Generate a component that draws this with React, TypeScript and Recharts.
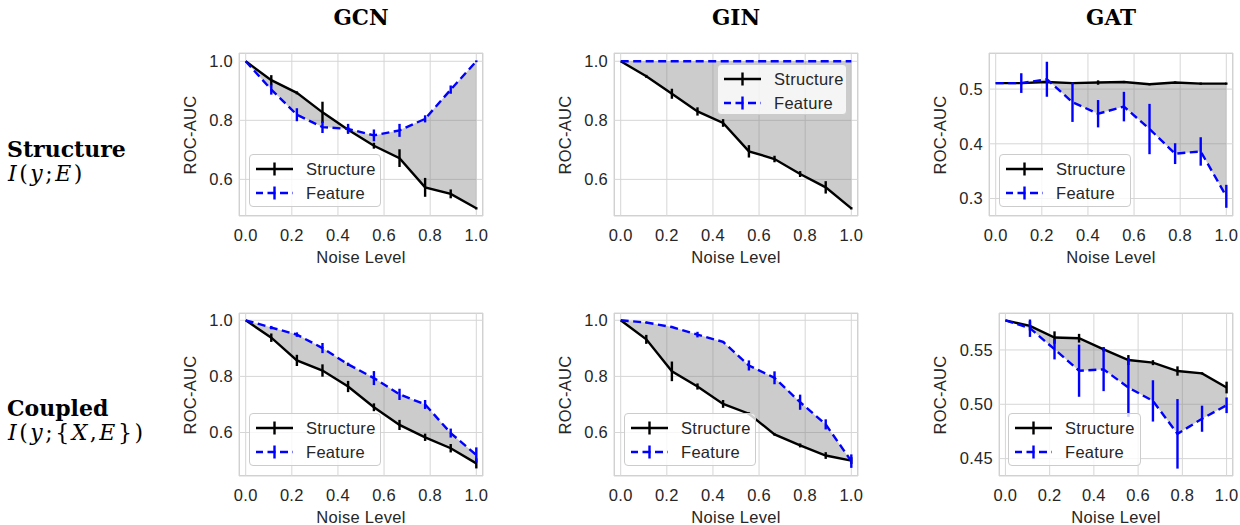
import React from 'react';
import { ComposedChart, Line, Area, XAxis, YAxis, CartesianGrid, ErrorBar } from 'recharts';

// ---------- data ----------
const NOISE = [0, 0.111, 0.222, 0.333, 0.444, 0.556, 0.667, 0.778, 0.889, 1.0];
const X_TICKS = [0, 0.2, 0.4, 0.6, 0.8, 1.0];
const MODELS = ['GCN', 'GIN', 'GAT'];
const ROWS = ['Structure', 'Coupled'];

// Row 1: Structure I(y;E)
const GCN_S_STRUCT = [1.0, 0.936, 0.893, 0.827, 0.768, 0.714, 0.672, 0.573, 0.551, 0.502];
const GCN_S_STRUCT_ERR = [0, 0.017, 0.005, 0.036, 0.01, 0.01, 0.03, 0.032, 0.015, 0.004];
const GCN_S_FEAT = [1.0, 0.904, 0.819, 0.777, 0.771, 0.749, 0.766, 0.805, 0.904, 1.0];
const GCN_S_FEAT_ERR = [0, 0.017, 0.022, 0.02, 0.017, 0.02, 0.022, 0.012, 0.014, 0.003];

const GIN_S_STRUCT = [1.0, 0.949, 0.89, 0.83, 0.791, 0.695, 0.669, 0.618, 0.573, 0.502];
const GIN_S_STRUCT_ERR = [0, 0.005, 0.017, 0.014, 0.013, 0.021, 0.011, 0.01, 0.021, 0.004];
const GIN_S_FEAT = [1.0, 1.0, 1.0, 1.0, 1.0, 1.0, 1.0, 1.0, 1.0, 1.0];
const GIN_S_FEAT_ERR = [0, 0, 0, 0, 0, 0, 0, 0, 0, 0];

const GAT_S_STRUCT = [0.511, 0.511, 0.513, 0.511, 0.512, 0.513, 0.509, 0.512, 0.51, 0.51];
const GAT_S_STRUCT_ERR = [0, 0.002, 0.002, 0.002, 0.004, 0.002, 0.002, 0.002, 0.002, 0.002];
const GAT_S_FEAT = [0.511, 0.511, 0.518, 0.476, 0.455, 0.468, 0.427, 0.382, 0.386, 0.304];
const GAT_S_FEAT_ERR = [0, 0.018, 0.032, 0.036, 0.025, 0.027, 0.046, 0.019, 0.026, 0.021];

// Row 2: Coupled I(y;{X,E})
const GCN_C_STRUCT = [1.0, 0.938, 0.857, 0.821, 0.764, 0.69, 0.627, 0.583, 0.544, 0.49];
const GCN_C_STRUCT_ERR = [0, 0.015, 0.02, 0.022, 0.02, 0.014, 0.018, 0.013, 0.015, 0.018];
const GCN_C_FEAT = [1.0, 0.974, 0.949, 0.901, 0.843, 0.794, 0.736, 0.7, 0.598, 0.52];
const GCN_C_FEAT_ERR = [0, 0.006, 0.008, 0.018, 0.006, 0.025, 0.02, 0.016, 0.016, 0.027];

const GIN_C_STRUCT = [1.0, 0.932, 0.818, 0.764, 0.702, 0.667, 0.593, 0.554, 0.518, 0.5];
const GIN_C_STRUCT_ERR = [0, 0.016, 0.035, 0.011, 0.014, 0.005, 0.004, 0.007, 0.012, 0.012];
const GIN_C_FEAT = [1.0, 0.992, 0.976, 0.949, 0.923, 0.839, 0.795, 0.708, 0.629, 0.498];
const GIN_C_FEAT_ERR = [0, 0.003, 0.003, 0.01, 0.003, 0.018, 0.023, 0.027, 0.018, 0.024];

const GAT_C_STRUCT = [0.5772, 0.5722, 0.5614, 0.5608, 0.5506, 0.5407, 0.5383, 0.5306, 0.5284, 0.5154];
const GAT_C_STRUCT_ERR = [0, 0.0043, 0.0057, 0.004, 0.002, 0.0046, 0.0023, 0.0043, 0.001, 0.0054];
const GAT_C_FEAT = [0.5772, 0.57, 0.5506, 0.5309, 0.5321, 0.5154, 0.5031, 0.4728, 0.4867, 0.4991];
const GAT_C_FEAT_ERR = [0, 0.008, 0.0093, 0.024, 0.02, 0.027, 0.019, 0.032, 0.012, 0.0072];

const TICKS_HI = [0.6, 0.8, 1.0];
const TICKS_GAT_S = [0.3, 0.4, 0.5];
const TICKS_GAT_C = [0.45, 0.5, 0.55];

// ---------- styles ----------
const SANS = '"Liberation Sans", Arial, sans-serif';
const SERIF = '"DejaVu Serif", serif';
const TXT = '#262626';
const FS = 16.5;
const LS = 0.3;

type Box = { left: number; top: number; w: number; h: number };

function LegendHandle({ color, dashed }: { color: string; dashed: boolean }) {
  return (
    <svg width={37} height={16} style={{ display: 'block' }}>
      <line x1={0} y1={8} x2={37} y2={8} stroke={color} strokeWidth={2.4}
        strokeDasharray={dashed ? '8 4.5' : undefined} strokeDashoffset={dashed ? 1 : 0} />
      <line x1={18.5} y1={1.5} x2={18.5} y2={14.5} stroke={color} strokeWidth={2.4} />
    </svg>
  );
}

function LegendBox({ left, top, w, h }: Box) {
  const row = (label: string, color: string, dashed: boolean, cy: number) => (
    <div style={{ position: 'absolute', left: 6, top: cy - 8, height: 16, display: 'flex', alignItems: 'center' }}>
      <LegendHandle color={color} dashed={dashed} />
      <span style={{ marginLeft: 13, fontFamily: SANS, fontSize: FS, letterSpacing: LS, color: TXT, lineHeight: '16px', whiteSpace: 'nowrap' }}>{label}</span>
    </div>
  );
  return (
    <div style={{ position: 'absolute', left, top, width: w, height: h, boxSizing: 'border-box', background: 'rgba(255,255,255,0.8)', border: '1px solid #cccccc', borderRadius: 4 }}>
      {row('Structure', '#000000', false, 13.5)}
      {row('Feature', '#0000ff', true, 37.5)}
    </div>
  );
}

type PanelProps = {
  box: Box;
  struct: number[]; structErr: number[]; feat: number[]; featErr: number[];
  yDomain: [number, number]; yTicks: number[]; yDigits: number;
  legend: Box; yLabelOffset: number;
};

function Panel({ box, struct, structErr, feat, featErr, yDomain, yTicks, yDigits, legend, yLabelOffset }: PanelProps) {
  const data = NOISE.map((x, i) => ({
    x, s: struct[i], se: structErr[i], f: feat[i], fe: featErr[i], band: [struct[i], feat[i]],
  }));
  const YW = 60, MT = 5, MR = 5, XH = 40;
  const tickStyle = { fontSize: FS, fill: TXT, fontFamily: SANS, letterSpacing: LS };
  return (
    <>
      <div style={{ position: 'absolute', left: box.left, top: box.top, width: box.w, height: box.h, boxSizing: 'border-box', border: '1.25px solid #cccccc' }} />
      <div style={{ position: 'absolute', left: box.left - YW, top: box.top - MT }}>
        <ComposedChart width={YW + box.w + MR} height={MT + box.h + XH} data={data}
          margin={{ top: MT, right: MR, left: 0, bottom: 0 }}>
          <CartesianGrid stroke="#d6d6d6" strokeWidth={1} />
          <XAxis dataKey="x" type="number" domain={[-0.029, 1.029]} ticks={X_TICKS} interval={0}
            allowDataOverflow tickFormatter={(v: number) => v.toFixed(1)} tickLine={false} axisLine={false}
            tickSize={0} tickMargin={13} height={XH} tick={tickStyle} />
          <YAxis type="number" domain={yDomain} ticks={yTicks} interval={0} allowDataOverflow
            tickFormatter={(v: number) => v.toFixed(yDigits)} tickLine={false} axisLine={false}
            tickSize={0} tickMargin={6} width={YW} tick={tickStyle} />
          <Area dataKey="band" type="linear" fill="#808080" fillOpacity={0.4} stroke="none"
            isAnimationActive={false} dot={false} activeDot={false} />
          <Line dataKey="s" type="linear" stroke="#000000" strokeWidth={2.4} dot={false} activeDot={false} isAnimationActive={false}>
            <ErrorBar dataKey="se" width={0} stroke="#000000" strokeWidth={2.4} direction="y" />
          </Line>
          <Line dataKey="f" type="linear" stroke="#0000ff" strokeWidth={2.4} strokeDasharray="8 4.5" dot={false} activeDot={false} isAnimationActive={false}>
            <ErrorBar dataKey="fe" width={0} stroke="#0000ff" strokeWidth={2.4} direction="y" />
          </Line>
        </ComposedChart>
      </div>
      <div style={{ position: 'absolute', left: box.left + box.w / 2, top: box.top + box.h + 40.5, transform: 'translate(-50%,-50%)', fontFamily: SANS, fontSize: FS, letterSpacing: LS, color: TXT, whiteSpace: 'nowrap', lineHeight: 1 }}>Noise Level</div>
      <div style={{ position: 'absolute', left: box.left - yLabelOffset, top: box.top + box.h / 2, transform: 'translate(-50%,-50%) rotate(-90deg)', fontFamily: SANS, fontSize: FS, letterSpacing: LS, color: TXT, whiteSpace: 'nowrap', lineHeight: 1 }}>ROC-AUC</div>
      <LegendBox {...legend} />
    </>
  );
}

const mathStyle: React.CSSProperties = { position: 'absolute', left: 8, fontFamily: SERIF, fontSize: 22, lineHeight: '22px', letterSpacing: 2.5, color: '#000', whiteSpace: 'nowrap' };
const rowStyle: React.CSSProperties = { position: 'absolute', left: 7, fontFamily: SERIF, fontWeight: 'bold', fontSize: 22, lineHeight: '22px', color: '#000', whiteSpace: 'nowrap' };

export default function App() {
  const boxes: Box[] = [
    { left: 239, top: 53, w: 244, h: 163 },
    { left: 614, top: 53, w: 244, h: 163 },
    { left: 989, top: 53, w: 244, h: 163 },
    { left: 239, top: 313, w: 244, h: 163 },
    { left: 614, top: 313, w: 244, h: 163 },
    { left: 999, top: 313, w: 234, h: 163 },
  ];
  return (
    <div style={{ position: 'absolute', left: 0, top: 0, width: 1240, height: 525, background: '#fff', overflow: 'hidden' }}>
      {MODELS.map((m, i) => (
        <div key={m} style={{ position: 'absolute', left: boxes[i].left + boxes[i].w / 2, top: 7, transform: 'translateX(-50%)', fontFamily: SERIF, fontWeight: 'bold', fontSize: 21.5, lineHeight: '21.5px', color: '#000' }}>{m}</div>
      ))}
      <div style={{ ...rowStyle, top: 137.5 }}>{ROWS[0]}</div>
      <div style={{ ...mathStyle, top: 163 }}><i>I</i>(<i>y</i>;<i>E</i>)</div>
      <div style={{ ...rowStyle, top: 396.5 }}>{ROWS[1]}</div>
      <div style={{ ...mathStyle, top: 422 }}><i>I</i>(<i>y</i>;{'{'}<i>X</i>,<i>E</i>{'}'})</div>

      <Panel box={boxes[0]} struct={GCN_S_STRUCT} structErr={GCN_S_STRUCT_ERR} feat={GCN_S_FEAT} featErr={GCN_S_FEAT_ERR}
        yDomain={[0.476, 1.028]} yTicks={TICKS_HI} yDigits={1} yLabelOffset={49}
        legend={{ left: 249, top: 154, w: 132, h: 53 }} />
      <Panel box={boxes[1]} struct={GIN_S_STRUCT} structErr={GIN_S_STRUCT_ERR} feat={GIN_S_FEAT} featErr={GIN_S_FEAT_ERR}
        yDomain={[0.476, 1.028]} yTicks={TICKS_HI} yDigits={1} yLabelOffset={49}
        legend={{ left: 717, top: 64, w: 130, h: 51 }} />
      <Panel box={boxes[2]} struct={GAT_S_STRUCT} structErr={GAT_S_STRUCT_ERR} feat={GAT_S_FEAT} featErr={GAT_S_FEAT_ERR}
        yDomain={[0.268, 0.566]} yTicks={TICKS_GAT_S} yDigits={1} yLabelOffset={49}
        legend={{ left: 999, top: 154, w: 132, h: 53 }} />
      <Panel box={boxes[3]} struct={GCN_C_STRUCT} structErr={GCN_C_STRUCT_ERR} feat={GCN_C_FEAT} featErr={GCN_C_FEAT_ERR}
        yDomain={[0.445, 1.026]} yTicks={TICKS_HI} yDigits={1} yLabelOffset={49}
        legend={{ left: 249, top: 413, w: 132, h: 53 }} />
      <Panel box={boxes[4]} struct={GIN_C_STRUCT} structErr={GIN_C_STRUCT_ERR} feat={GIN_C_FEAT} featErr={GIN_C_FEAT_ERR}
        yDomain={[0.445, 1.026]} yTicks={TICKS_HI} yDigits={1} yLabelOffset={49}
        legend={{ left: 624, top: 413, w: 132, h: 53 }} />
      <Panel box={boxes[5]} struct={GAT_C_STRUCT} structErr={GAT_C_STRUCT_ERR} feat={GAT_C_FEAT} featErr={GAT_C_FEAT_ERR}
        yDomain={[0.434, 0.584]} yTicks={TICKS_GAT_C} yDigits={2} yLabelOffset={59}
        legend={{ left: 1008, top: 413, w: 133, h: 53 }} />
    </div>
  );
}
